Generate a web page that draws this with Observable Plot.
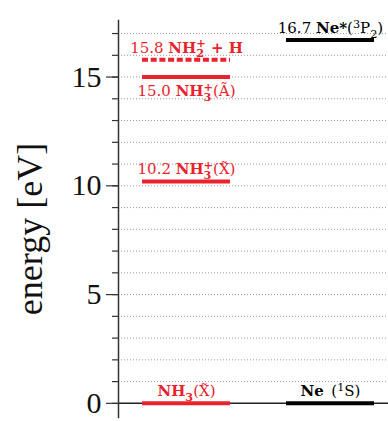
<!DOCTYPE html>
<html><head><meta charset="utf-8">
<script src="https://cdn.jsdelivr.net/npm/d3@7"></script>
<script src="https://cdn.jsdelivr.net/npm/@observablehq/plot@0.6"></script>
<style>body{margin:0;background:#fff} svg{display:block}</style>
</head><body><div id="chart"></div>
<script>
// ---- data ----
const groups = ["NH3", "Ne"];
const levelGroup  = ["NH3", "NH3", "NH3", "NH3", "Ne", "Ne"];
const levelEnergy = [0, 10.2, 15.0, 15.8, 0, 16.7];
const levelKind   = ["state", "state", "state", "threshold", "state", "state"];
// markup: # toggles bold, _x subscript, ^x superscript
const levelLabel  = [
  "#NH_3#(X\u0303)",
  "10.2 #NH_3^+#(X\u0303)",
  "15.0 #NH_3^+#(\u00C3)",
  "15.8 #NH_2^+ + H#",
  "#Ne#\u2002(^1S)",
  "16.7 #Ne*#(^3P_2)"
];
const labelSide   = ["above", "above", "below", "above", "above", "above"];
const yMajorTicks = [0, 5, 10, 15];
const yMinorTicks = d3.range(0, 18);
const yTitle = "energy [eV]";

const data = levelEnergy.map((e, i) => ({
  group: levelGroup[i], energy: e, kind: levelKind[i], label: levelLabel[i], side: labelSide[i]
}));

const FONT = "'Liberation Serif', 'Times New Roman', serif";
const LABEL_FONT = "'DejaVu Serif', serif";
const RED = "#ea222b";

const plot = Plot.plot({
  width: 388, height: 421,
  marginLeft: 118, marginRight: 0, marginTop: 20, marginBottom: 4,
  style: {fontFamily: FONT, background: "#fff", color: "#111"},
  x: {type: "band", domain: groups, paddingInner: 0.388, paddingOuter: 0.13, align: 0.632, axis: null},
  y: {domain: [-0.65, 17.6], axis: null},
  color: {domain: groups, range: [RED, "#000"]},
  marks: [
    Plot.gridY(yMinorTicks.filter(d => d > 0), {stroke: "#999", strokeOpacity: 1, strokeDasharray: "1,2"}),
    Plot.ruleY([0], {stroke: "#222", strokeWidth: 1.5}),
    Plot.frame({anchor: "left", stroke: "#333", strokeWidth: 1.5}),
    Plot.axisY(yMinorTicks, {tickSize: 6, tickFormat: () => "", stroke: "#333", strokeWidth: 1.2, label: null}),
    Plot.axisY(yMajorTicks, {tickSize: 12, tickPadding: 5, fontSize: 30, stroke: "#333", strokeWidth: 1.2, label: null}),
    Plot.tickY(data.filter(d => d.kind === "state"), {x: "group", y: "energy", stroke: "group", strokeWidth: 4}),
    Plot.tickY(data.filter(d => d.kind === "threshold"), {x: "group", y: "energy", stroke: "group", strokeWidth: 4, strokeDasharray: "6,2.7"}),
    Plot.text(data.filter(d => d.side === "above"), {x: "group", y: "energy", text: "label", fill: "group", dy: -7, lineAnchor: "bottom", fontSize: 15, fontFamily: LABEL_FONT}),
    Plot.text(data.filter(d => d.side === "below"), {x: "group", y: "energy", text: "label", fill: "group", dy: 19, lineAnchor: "bottom", fontSize: 15, fontFamily: LABEL_FONT}),
    Plot.text([yTitle], {frameAnchor: "left", rotate: -90, dx: -88, dy: 10, fontSize: 36, textAnchor: "middle", lineAnchor: "middle"})
  ]
});
document.getElementById("chart").appendChild(plot);

// ---- rich text (bold, sub/superscripts) ----
const NS = "http://www.w3.org/2000/svg";
function richify(el, markup) {
  el.textContent = "";
  let bold = false, cur = 0, buf = "", lastSubW = 0, prevSub = false;
  const SUB = 4.5, SUP = -5.5;
  function add(str, shift, small, dx) {
    const t = document.createElementNS(NS, "tspan");
    t.textContent = str;
    if (bold) t.setAttribute("font-weight", "bold");
    if (small) t.setAttribute("font-size", "0.75em");
    if (shift !== cur) { t.setAttribute("dy", shift - cur); cur = shift; }
    if (dx) t.setAttribute("dx", dx);
    el.appendChild(t);
    return t;
  }
  function flush() { if (buf) { add(buf, 0, false); buf = ""; prevSub = false; } }
  for (let i = 0; i < markup.length; i++) {
    const c = markup[i];
    if (c === "#") { flush(); bold = !bold; }
    else if (c === "_") { flush(); const t = add(markup[++i], SUB, true); lastSubW = t.getComputedTextLength(); prevSub = true; }
    else if (c === "^") {
      flush();
      const dx = prevSub ? -lastSubW : 0;
      add(markup[++i], SUP, true, dx);
      prevSub = false;
    }
    else buf += c;
  }
  flush();
}
d3.select(plot).selectAll("text").each(function () {
  const s = this.textContent;
  if (levelLabel.includes(s)) richify(this, s);
});
</script>
</body></html>
